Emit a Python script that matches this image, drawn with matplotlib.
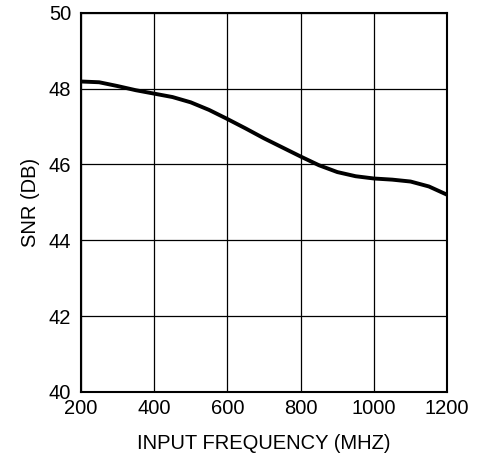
import matplotlib.pyplot as plt

# -------------------------
# Data
# -------------------------

freq_mhz = [200, 250, 300, 350, 400, 450, 500, 550, 600, 650, 700,
            750, 800, 850, 900, 950, 1000, 1050, 1100, 1150, 1200]
snr_db = [48.19, 48.17, 48.07, 47.96, 47.87, 47.78, 47.64, 47.44, 47.20,
          46.95, 46.69, 46.45, 46.21, 45.98, 45.80, 45.69, 45.63, 45.60,
          45.55, 45.42, 45.20]

x_ticks = [200, 400, 600, 800, 1000, 1200]
y_ticks = [40, 42, 44, 46, 48, 50]

plt.rcParams["font.family"] = ["Liberation Sans", "DejaVu Sans"]

fig = plt.figure(figsize=(4.84, 4.61), dpi=100)
ax = fig.add_axes([0.167, 0.150, 0.757, 0.822])

ax.plot(freq_mhz, snr_db, color="black", linewidth=2.8, solid_capstyle="butt")

ax.set_xlim(200, 1200)
ax.set_ylim(40, 50)
ax.set_xticks(x_ticks)
ax.set_yticks(y_ticks)
ax.tick_params(length=0, labelsize=14.5)
ax.tick_params(axis="x", pad=5)
ax.tick_params(axis="y", pad=7)
ax.grid(True, color="black", linewidth=0.9)
for s in ax.spines.values():
    s.set_linewidth(1.5)

ax.set_xlabel("INPUT FREQUENCY (MHZ)", fontsize=14.5, labelpad=12)
ax.set_ylabel("SNR (DB)", fontsize=14.5, labelpad=6)

fig.savefig("out.png", dpi=100)
